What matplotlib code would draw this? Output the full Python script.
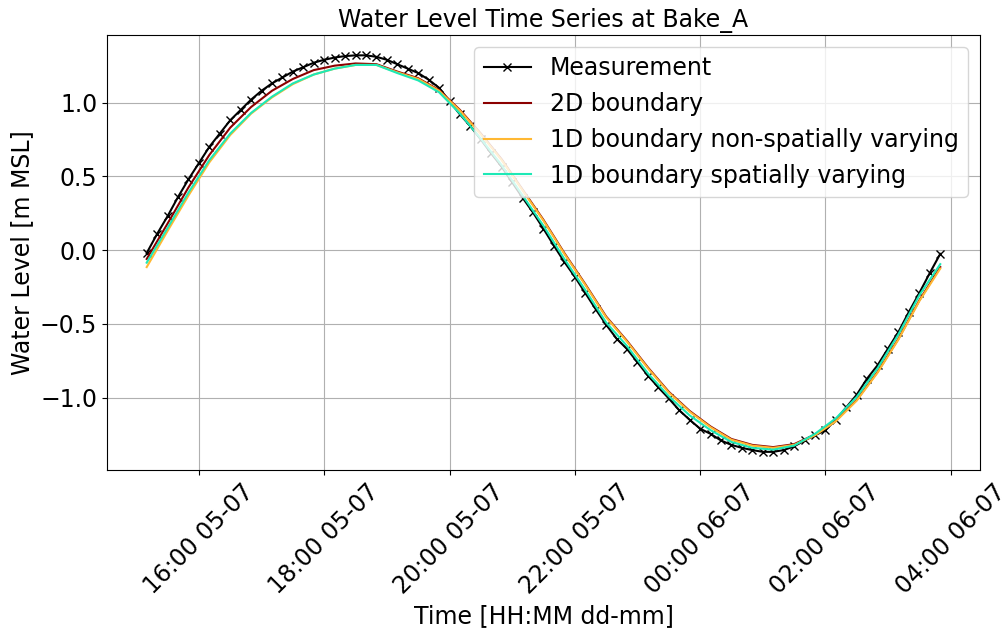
import matplotlib
matplotlib.use("Agg")
import matplotlib.pyplot as plt
import matplotlib.dates as mdates
import numpy as np
import pandas as pd

# Observed water level at Bake_A, every 10 minutes [m MSL]
meas_start = "2023-07-05 15:10"
meas_level = [
    -0.02, 0.11, 0.23, 0.36, 0.48, 0.59, 0.70, 0.79, 0.88, 0.95,
    1.02, 1.08, 1.13, 1.17, 1.21, 1.24, 1.27, 1.29, 1.305, 1.315,
    1.32, 1.32, 1.31, 1.29, 1.26, 1.23, 1.20, 1.155, 1.10, 1.01,
    0.92, 0.84, 0.75, 0.655, 0.565, 0.46, 0.355, 0.255, 0.145, 0.03,
    -0.08, -0.18, -0.29, -0.40, -0.505, -0.60, -0.67, -0.76, -0.85, -0.93,
    -1.005, -1.085, -1.15, -1.21, -1.245, -1.29, -1.32, -1.34, -1.355, -1.367,
    -1.367, -1.355, -1.33, -1.29, -1.255, -1.22, -1.15, -1.065, -0.98, -0.87,
    -0.78, -0.667, -0.554, -0.418, -0.29, -0.155, -0.025,
]

# Model output, every 20 minutes [m MSL]
model_start = "2023-07-05 15:10"
level_2d = [
    -0.06, 0.18, 0.425, 0.645, 0.83, 0.97, 1.08, 1.16, 1.22, 1.25,
    1.265, 1.26, 1.21, 1.165, 1.085, 0.95, 0.79, 0.615, 0.41, 0.205,
    -0.02, -0.23, -0.45, -0.615, -0.795, -0.96, -1.09, -1.195, -1.28, -1.32,
    -1.335, -1.315, -1.25, -1.155, -1.015, -0.825, -0.60, -0.34, -0.115,
]
level_1d_uniform = [
    -0.115, 0.13, 0.37, 0.595, 0.78, 0.925, 1.035, 1.125, 1.19, 1.23,
    1.255, 1.255, 1.205, 1.16, 1.08, 0.945, 0.785, 0.61, 0.405, 0.20,
    -0.025, -0.235, -0.455, -0.62, -0.80, -0.965, -1.095, -1.20, -1.285, -1.325,
    -1.34, -1.32, -1.255, -1.16, -1.02, -0.83, -0.605, -0.345, -0.125,
]
level_1d_varying = [
    -0.085, 0.15, 0.39, 0.61, 0.79, 0.93, 1.04, 1.13, 1.19, 1.23,
    1.255, 1.255, 1.20, 1.15, 1.07, 0.925, 0.755, 0.575, 0.37, 0.165,
    -0.06, -0.27, -0.49, -0.65, -0.835, -0.99, -1.12, -1.22, -1.30, -1.34,
    -1.352, -1.325, -1.245, -1.14, -0.995, -0.80, -0.57, -0.305, -0.095,
]

meas_time = pd.date_range(meas_start, periods=len(meas_level), freq="10min")
model_time = pd.date_range(model_start, periods=len(level_2d), freq="20min")

plt.rcParams["font.size"] = 17

fig = plt.figure(figsize=(10.03, 6.28), dpi=100)
ax = fig.add_axes([0.1067, 0.2516, 0.8703, 0.6927])

ax.plot(meas_time, meas_level, color="black", marker="x", markersize=6,
        linewidth=1.5, label="Measurement")
ax.plot(model_time, level_2d, color="#8b0000", linewidth=1.5,
        label="2D boundary")
ax.plot(model_time, level_1d_uniform, color="#ffb833", linewidth=1.5,
        label="1D boundary non-spatially varying")
ax.plot(model_time, level_1d_varying, color="#1de9b6", linewidth=1.5,
        label="1D boundary spatially varying")

ax.set_ylim(-1.49, 1.458)
ax.xaxis.set_major_locator(mdates.HourLocator(byhour=range(0, 24, 2)))
ax.xaxis.set_major_formatter(mdates.DateFormatter("%H:%M %d-%m"))
plt.setp(ax.get_xticklabels(), rotation=45)

ax.set_title("Water Level Time Series at Bake_A", fontsize=17)
ax.set_xlabel("Time [HH:MM dd-mm]")
ax.set_ylabel("Water Level [m MSL]")
ax.grid(True)
ax.legend(loc="upper right")

fig.savefig("out.png", dpi=100)
